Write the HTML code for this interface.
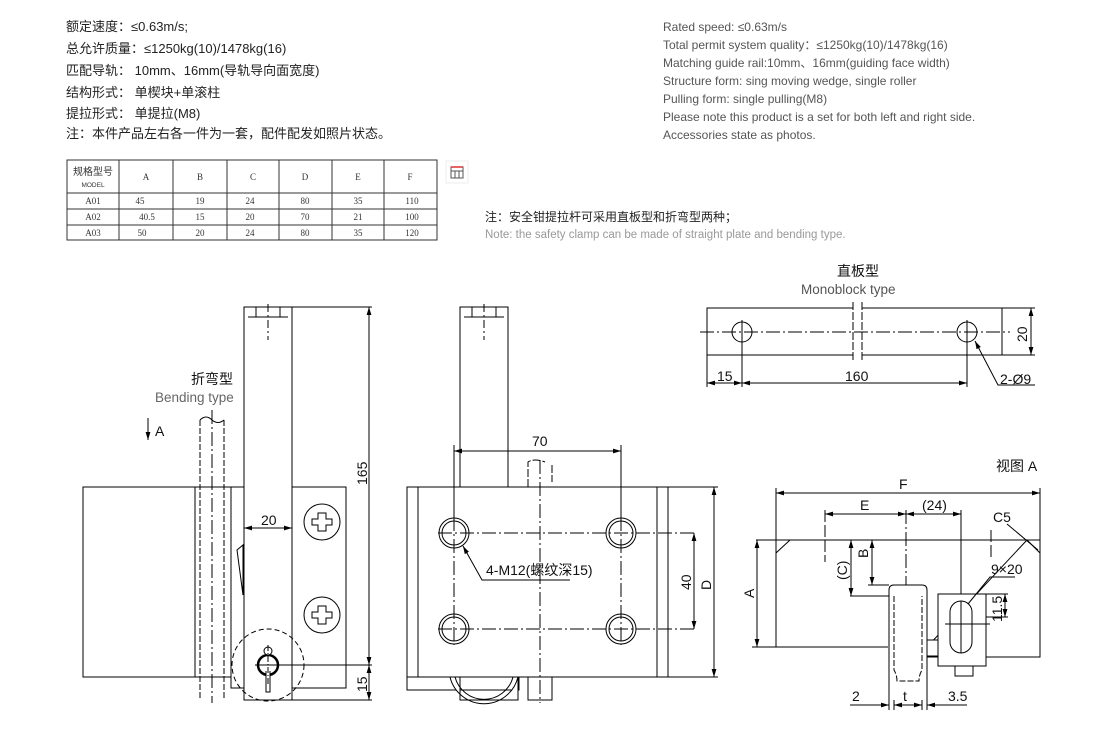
<!DOCTYPE html>
<html><head><meta charset="utf-8"><style>
html,body{margin:0;padding:0;background:#fff;}
svg{display:block;}
</style></head><body>
<svg width="1100" height="732" viewBox="0 0 1100 732" xmlns="http://www.w3.org/2000/svg" font-family="Liberation Sans, Noto Sans CJK SC, sans-serif">
<defs>
<marker id="ar" viewBox="0 0 10 6" refX="10" refY="3" markerWidth="8" markerHeight="5" orient="auto-start-reverse"><path d="M0,0 L10,3 L0,6 z" fill="#000"/></marker>
</defs>
<g font-size="13" fill="#222">
<text x="66" y="31">额定速度：≤0.63m/s;</text>
<text x="66" y="53">总允许质量：≤1250kg(10)/1478kg(16)</text>
<text x="66" y="75">匹配导轨： 10mm、16mm(导轨导向面宽度)</text>
<text x="66" y="97">结构形式： 单楔块+单滚柱</text>
<text x="66" y="118">提拉形式： 单提拉(M8)</text>
<text x="66" y="138">注：本件产品左右各一件为一套，配件配发如照片状态。</text>
</g>
<g font-size="12" fill="#555">
<text x="663" y="31">Rated speed: ≤0.63m/s</text>
<text x="663" y="49">Total permit system quality：≤1250kg(10)/1478kg(16)</text>
<text x="663" y="67">Matching guide rail:10mm、16mm(guiding face width)</text>
<text x="663" y="85">Structure form: sing moving wedge, single roller</text>
<text x="663" y="103">Pulling form: single pulling(M8)</text>
<text x="663" y="121">Please note this product is a set for both left and right side.</text>
<text x="663" y="139">Accessories state as photos.</text>
</g>
<g stroke="#333" stroke-width="1" fill="none">
<rect x="67" y="160" width="370" height="80"/>
<line x1="67" y1="193" x2="437" y2="193"/><line x1="67" y1="209" x2="437" y2="209"/><line x1="67" y1="225" x2="437" y2="225"/>
<line x1="119" y1="160" x2="119" y2="240"/><line x1="173" y1="160" x2="173" y2="240"/><line x1="227" y1="160" x2="227" y2="240"/><line x1="279" y1="160" x2="279" y2="240"/><line x1="332" y1="160" x2="332" y2="240"/><line x1="384" y1="160" x2="384" y2="240"/>
</g>
<g font-size="9" fill="#333" font-family="Liberation Serif, Noto Serif CJK SC, serif" text-anchor="middle">
<text x="93" y="175" font-family="Liberation Sans, Noto Sans CJK SC, sans-serif" font-size="10">规格型号</text>
<text x="93" y="187" font-size="6.5" font-family="Liberation Sans, sans-serif">MODEL</text>
<text x="146" y="180">A</text><text x="200" y="180">B</text><text x="253" y="180">C</text><text x="305" y="180">D</text><text x="358" y="180">E</text><text x="410" y="180">F</text>
<text x="93" y="204">A01</text><text x="140" y="204">45</text><text x="200" y="204">19</text><text x="250" y="204">24</text><text x="305" y="204">80</text><text x="358" y="204">35</text><text x="412" y="204">110</text>
<text x="93" y="220">A02</text><text x="147" y="220">40.5</text><text x="200" y="220">15</text><text x="250" y="220">20</text><text x="305" y="220">70</text><text x="358" y="220">21</text><text x="412" y="220">100</text>
<text x="93" y="236">A03</text><text x="142" y="236">50</text><text x="200" y="236">20</text><text x="250" y="236">24</text><text x="305" y="236">80</text><text x="358" y="236">35</text><text x="412" y="236">120</text>
</g>
<rect x="446" y="161" width="22" height="22" fill="#fff" stroke="#eee"/>
<g stroke="#555" fill="none" stroke-width="1"><rect x="451" y="167" width="12" height="11"/><line x1="451" y1="171" x2="463" y2="171"/><line x1="455" y1="171" x2="455" y2="178"/><line x1="459" y1="171" x2="459" y2="178"/></g>
<line x1="451" y1="167" x2="463" y2="167" stroke="#d33" stroke-width="1.5"/>
<text x="485" y="221" font-size="12" fill="#222">注：安全钳提拉杆可采用直板型和折弯型两种；</text>
<text x="485" y="238" font-size="11.5" fill="#999">Note: the safety clamp can be made of straight plate and bending type.</text>

<g stroke="#000" stroke-width="1" fill="#fff">
<rect x="83" y="487" width="160" height="190"/>
<line x1="195" y1="487" x2="195" y2="677"/>
<rect x="231" y="487" width="13" height="201"/>
<path d="M200,420 L200,700 M224,420 L224,700" stroke-dasharray="6,2"/>
<path d="M200,420 Q206,414 212,420 Q218,425 224,420" fill="none"/>
<line x1="212" y1="410" x2="212" y2="703" stroke-dasharray="14,3,2,3"/>
<path d="M237,550 L243,545 L243,595 Z" fill="#fff"/>
<rect x="292" y="487" width="54" height="201"/>
<rect x="244" y="307" width="48" height="393"/>
<path d="M256,307 v10 M280,307 v10 M248,317 h40" fill="none"/>
<line x1="268" y1="304" x2="268" y2="340" stroke-dasharray="8,3,2,3"/>
<circle cx="322" cy="522" r="18"/><circle cx="322" cy="615" r="18"/>
<path d="M318,513 h8 v6 h6 v6 h-6 v6 h-8 v-6 h-6 v-6 h6 z" fill="#fff"/>
<path d="M318,606 h8 v6 h6 v6 h-6 v6 h-8 v-6 h-6 v-6 h6 z" fill="#fff"/>
<circle cx="268" cy="665" r="36" fill="none" stroke-dasharray="5,3"/>
<circle cx="268" cy="665" r="10" stroke-width="2.5"/>
<circle cx="268" cy="651" r="4"/>
<path d="M266,671 L266,692 L270,692 L270,671" fill="#fff"/>
<line x1="255" y1="665" x2="372" y2="665" fill="none"/>
<line x1="268" y1="645" x2="268" y2="685" fill="none" stroke-dasharray="6,2,1,2"/>
<path d="M292,307 H372 M292,700 H372" fill="none"/>
<line x1="369" y1="307" x2="369" y2="665" marker-start="url(#ar)" marker-end="url(#ar)" fill="none"/>
<line x1="369" y1="665" x2="369" y2="700" marker-start="url(#ar)" marker-end="url(#ar)" fill="none"/>
<line x1="244" y1="528" x2="292" y2="528" marker-start="url(#ar)" marker-end="url(#ar)" fill="none"/>
<line x1="148" y1="418" x2="148" y2="440" marker-end="url(#ar)" fill="none"/>

<rect x="460" y="307" width="48" height="180"/>
<path d="M472,307 v10 M496,307 v10 M464,317 h40" fill="none"/>
<line x1="484" y1="304" x2="484" y2="340" stroke-dasharray="8,3,2,3"/>
<rect x="407" y="677" width="112" height="13"/>
<path d="M450,677 A35,35 0 0 0 518,677 L518,700 L460,700 L460,677" fill="#fff"/>
<path d="M455,677 A30,30 0 0 0 513,677" fill="none"/>
<rect x="407" y="487" width="261" height="190"/>
<path d="M418,487 V677 M657,487 V677" fill="none"/>
<path d="M528,690 V700 H552 V690 M528,677 V690 M552,677 V690" fill="none"/>
<path d="M528,487 V462 Q534,458 545,462 M552,465 V482" fill="none" stroke-dasharray="8,2"/>
<line x1="540" y1="460" x2="540" y2="703" stroke-dasharray="14,3,2,3" fill="none"/>
<g fill="none">
<circle cx="454" cy="533" r="15"/><circle cx="454" cy="533" r="12"/>
<circle cx="621" cy="533" r="15"/><circle cx="621" cy="533" r="12"/>
<circle cx="454" cy="629" r="15"/><circle cx="454" cy="629" r="12"/>
<circle cx="621" cy="629" r="15"/><circle cx="621" cy="629" r="12"/>
<path d="M438,533 H697 M438,629 H697 M454,517 V645 M621,517 V645" stroke-dasharray="14,3,2,3"/>
<path d="M454,445 V517 M621,445 V517"/>
<line x1="454" y1="451" x2="621" y2="451" marker-start="url(#ar)" marker-end="url(#ar)"/>
<line x1="694" y1="533" x2="694" y2="629" marker-start="url(#ar)" marker-end="url(#ar)"/>
<path d="M668,487 H718 M668,677 H718"/>
<line x1="714" y1="487" x2="714" y2="677" marker-start="url(#ar)" marker-end="url(#ar)"/>
<path d="M570,580 H482 L463,546" marker-end="url(#ar)"/>
</g>

<rect x="707" y="308" width="295" height="47"/>
<rect x="853" y="300" width="9" height="62" stroke="none"/>
<path d="M853,302 V362 M862,302 V362" fill="none" stroke-dasharray="8,2"/>
<line x1="700" y1="332" x2="1010" y2="332" stroke-dasharray="14,3,2,3" fill="none"/>
<circle cx="742" cy="332" r="10" fill="none"/><circle cx="967" cy="332" r="10" fill="none"/>
<g fill="none">
<path d="M742,320 V387 M967,320 V387 M707,355 V387 M1002,308 H1035 M1002,355 H1035"/>
<line x1="1031" y1="308" x2="1031" y2="355" marker-start="url(#ar)" marker-end="url(#ar)"/>
<line x1="707" y1="383" x2="742" y2="383" marker-start="url(#ar)" marker-end="url(#ar)"/>
<line x1="742" y1="383" x2="967" y2="383" marker-start="url(#ar)" marker-end="url(#ar)"/>
<path d="M1035,385 H998 L975,341" marker-end="url(#ar)"/>
</g>

<g fill="none">
<path d="M790,540 L776,553 V647 H888 M927,647 V657 H1040 V553 L1027,540 Z"/>
<line x1="756" y1="540" x2="1040" y2="540"/>
<path d="M776,488 V553 M1040,488 V553"/>
<line x1="776" y1="493" x2="1040" y2="493" marker-start="url(#ar)" marker-end="url(#ar)"/>
<path d="M825,510 V562 M991,530 V560" stroke-dasharray="12,3"/>
<line x1="825" y1="514" x2="906" y2="514" marker-start="url(#ar)" marker-end="url(#ar)"/>
<line x1="906" y1="514" x2="961" y2="514" marker-start="url(#ar)" marker-end="url(#ar)"/>
<line x1="961" y1="510" x2="961" y2="600"/>
<line x1="906" y1="510" x2="906" y2="705" stroke-dasharray="14,3,2,3"/>
<path d="M752,647 H776 M850,596 H889 M868,585 H889"/>
<line x1="757" y1="540" x2="757" y2="647" marker-start="url(#ar)" marker-end="url(#ar)"/>
<line x1="851" y1="540" x2="851" y2="596" marker-start="url(#ar)" marker-end="url(#ar)"/>
<line x1="872" y1="540" x2="872" y2="585" marker-start="url(#ar)" marker-end="url(#ar)"/>
<path d="M1007,524 L1038,550"/>
</g>
<path d="M889,705 V590 Q889,585 894,585 H922 Q927,585 927,590 V705" fill="#fff"/>
<path d="M894,596 V670 Q897,675 897,681 H919 Q919,675 922,670 V596" fill="none" stroke-dasharray="6,2"/>
<rect x="927" y="640" width="12" height="16"/>
<rect x="955" y="666" width="18" height="10"/>
<rect x="938" y="594" width="48" height="72"/>
<rect x="950" y="601" width="22" height="52" rx="11"/>
<line x1="961" y1="601" x2="961" y2="653" fill="none"/>
<line x1="945" y1="624" x2="990" y2="624" fill="none"/>
<g fill="none">
<path d="M961,594 H1008 M986,617 H1008"/>
<line x1="1005" y1="594" x2="1005" y2="617" marker-start="url(#ar)" marker-end="url(#ar)"/>
<path d="M1015,577 H990 L968,604"/>
<path d="M889,700 V710 M894,700 V710 M922,700 V710 M927,700 V710"/>
<line x1="850" y1="705" x2="889" y2="705" marker-end="url(#ar)"/>
<line x1="894" y1="705" x2="922" y2="705" marker-start="url(#ar)" marker-end="url(#ar)"/>
<line x1="967" y1="705" x2="927" y2="705" marker-end="url(#ar)"/>
</g>
</g>

<g font-size="14" fill="#111">
<text x="191" y="384">折弯型</text>
<text x="155" y="402" fill="#666" font-size="13.5">Bending type</text>
<text x="155" y="436">A</text>
<text x="261" y="525">20</text>
<text transform="translate(367,485) rotate(-90)">165</text>
<text transform="translate(367,692) rotate(-90)">15</text>
<text x="532" y="446">70</text>
<text x="486" y="575">4-M12(螺纹深15)</text>
<text transform="translate(691,590) rotate(-90)">40</text>
<text transform="translate(711,590) rotate(-90)">D</text>
<text x="837" y="276">直板型</text>
<text x="801" y="294" fill="#555" font-size="13.5">Monoblock type</text>
<text transform="translate(1027,342) rotate(-90)">20</text>
<text x="717" y="381">15</text>
<text x="845" y="381">160</text>
<text x="1000" y="384">2-Ø9</text>
<text x="996" y="471">视图 A</text>
<text x="899" y="489">F</text>
<text x="860" y="510">E</text>
<text x="922" y="510">(24)</text>
<text x="993" y="522">C5</text>
<text x="991" y="574">9×20</text>
<text transform="translate(847,580) rotate(-90)">(C)</text>
<text transform="translate(868,558) rotate(-90)">B</text>
<text transform="translate(754,598) rotate(-90)">A</text>
<text transform="translate(1002,622) rotate(-90)">11.5</text>
<text x="852" y="701">2</text>
<text x="903" y="701">t</text>
<text x="948" y="701">3.5</text>
</g>
</svg>
</body></html>
